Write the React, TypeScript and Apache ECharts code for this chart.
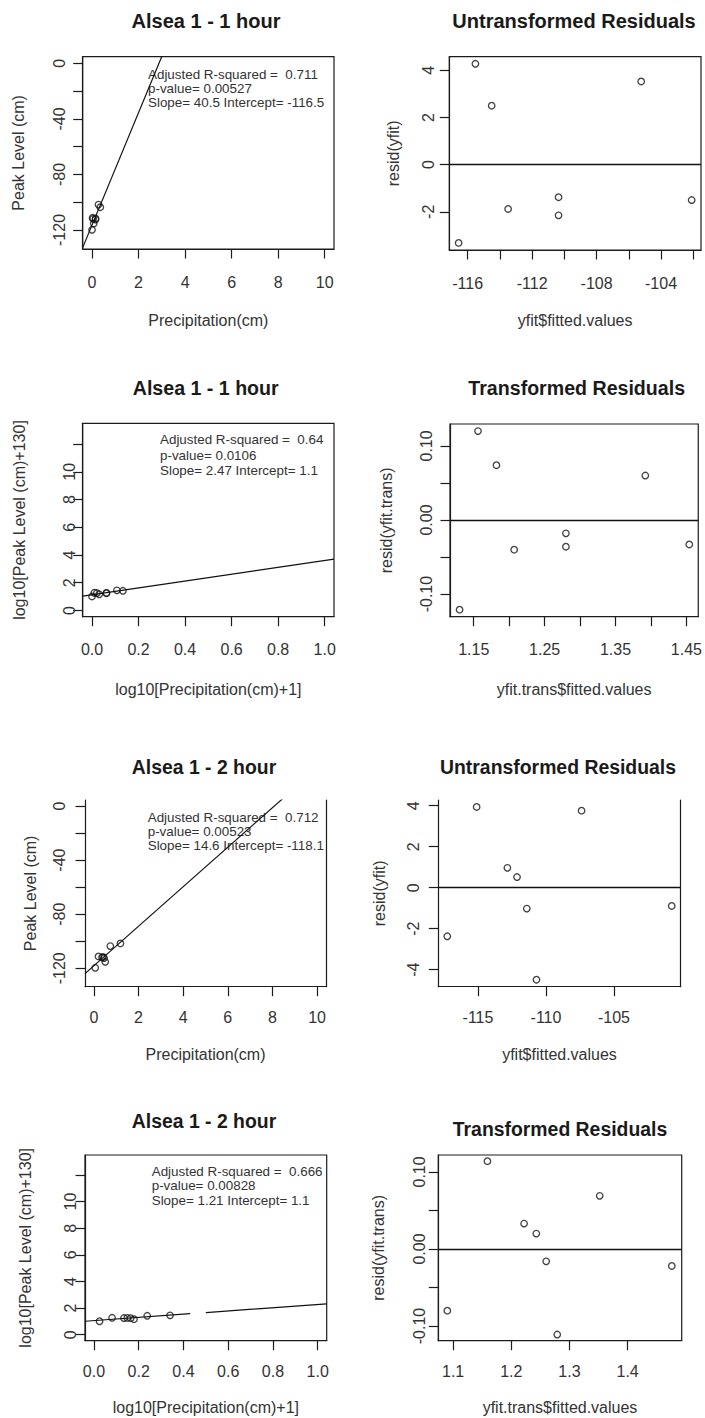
import React, { useEffect, useRef } from "react";
import * as echarts from "echarts";

// ---------------- DATA ----------------
// Alsea 1 - 1 hour (untransformed)
const precip1h = [0.0, 0.024, 0.049, 0.074, 0.152, 0.152, 0.278, 0.356];
const peak1h = [-119.9, -111.2, -112.0, -115.4, -111.7, -112.5, -101.7, -103.6];
const slope1h = 40.5;
const intercept1h = -116.5;
const fitted1h = [-116.56, -115.52, -114.51, -113.49, -110.36, -110.36, -105.23, -102.1];
const resid1h = [-3.32, 4.28, 2.5, -1.88, -1.38, -2.15, 3.53, -1.5];

// Alsea 1 - 1 hour (transformed)
const logPrecip1h = [0.0, 0.01, 0.021, 0.031, 0.062, 0.062, 0.107, 0.133];
const logPeak1h = [1.009, 1.276, 1.256, 1.167, 1.262, 1.243, 1.453, 1.421];
const slopeTrans1h = 2.47;
const interceptTrans1h = 1.13;
const fittedTrans1h = [1.13, 1.156, 1.182, 1.207, 1.28, 1.28, 1.392, 1.454];
const residTrans1h = [-0.121, 0.12, 0.074, -0.04, -0.018, -0.036, 0.06, -0.033];

// Alsea 1 - 2 hour (untransformed)
const precip2h = [0.058, 0.205, 0.36, 0.409, 0.458, 0.507, 0.734, 1.188];
const peak2h = [-119.6, -111.2, -111.9, -111.6, -112.4, -115.2, -103.6, -101.6];
const slope2h = 14.6;
const intercept2h = -118.1;
const fitted2h = [-117.26, -115.1, -112.84, -112.13, -111.41, -110.7, -107.38, -100.75];
const resid2h = [-2.37, 3.94, 0.97, 0.52, -1.02, -4.49, 3.76, -0.89];

// Alsea 1 - 2 hour (transformed)
const logPrecip2h = [0.025, 0.081, 0.134, 0.149, 0.164, 0.179, 0.238, 0.34];
const logPeak2h = [1.011, 1.273, 1.254, 1.263, 1.244, 1.169, 1.422, 1.454];
const slopeTrans2h = 1.21;
const interceptTrans2h = 1.06;
const fitLineGap2hTrans = [0.43, 0.5];
const fittedTrans2h = [1.09, 1.159, 1.222, 1.243, 1.26, 1.279, 1.352, 1.476];
const residTrans2h = [-0.08, 0.114, 0.033, 0.02, -0.016, -0.111, 0.069, -0.022];

// Tick values / labels
const precipTicks = [0, 2, 4, 6, 8, 10];
const peakTicks = [-120, -100, -80, -60, -40, -20, 0];
const peakLabels = [-120, -80, -40, 0];
const logPrecipTicks = [0, 0.2, 0.4, 0.6, 0.8, 1.0];
const logPeakTicks = [0, 2, 4, 6, 8, 10, 12];
const logPeakLabels = [0, 2, 4, 6, 8, 10];
const fitted1hTicks = [-116, -114, -112, -110, -108, -106, -104, -102];
const fitted1hLabels = [-116, -112, -108, -104];
const resid1hTicks = [-2, 0, 2, 4];
const fittedTrans1hTicks = [1.15, 1.2, 1.25, 1.3, 1.35, 1.4, 1.45];
const fittedTrans1hLabels = [1.15, 1.25, 1.35, 1.45];
const residTransTicks = [-0.1, -0.05, 0, 0.05, 0.1];
const residTransLabels = [-0.1, 0, 0.1];
const fitted2hTicks = [-115, -110, -105];
const resid2hTicks = [-4, -2, 0, 2, 4];
const fittedTrans2hTicks = [1.1, 1.2, 1.3, 1.4];

const titles = [
  "Alsea 1 - 1 hour",
  "Untransformed Residuals",
  "Alsea 1 - 1 hour",
  "Transformed Residuals",
  "Alsea 1 - 2 hour",
  "Untransformed Residuals",
  "Alsea 1 - 2 hour",
  "Transformed Residuals",
];

const annotations1h = ["Adjusted R-squared =  0.711", "p-value= 0.00527", "Slope= 40.5 Intercept= -116.5"];
const annotationsTrans1h = ["Adjusted R-squared =  0.64", "p-value= 0.0106", "Slope= 2.47 Intercept= 1.1"];
const annotations2h = ["Adjusted R-squared =  0.712", "p-value= 0.00523", "Slope= 14.6 Intercept= -118.1"];
const annotationsTrans2h = ["Adjusted R-squared =  0.666", "p-value= 0.00828", "Slope= 1.21 Intercept= 1.1"];

// ---------------- STYLE / LAYOUT ----------------
const FONT = "'Liberation Sans', Arial, Helvetica, sans-serif";
const AXIS_COLOR = "#1c1c1c";
const TEXT_COLOR = "#333333";
const TITLE_COLOR = "#1a1a1a";

const int = (v: number) => String(v);
const f1 = (v: number) => v.toFixed(1);
const f2 = (v: number) => v.toFixed(2);

type Panel = {
  grid: { left: number; top: number; width: number; height: number };
  noTop?: boolean;
  x: { min: number; max: number; ticks: number[]; labels: number[]; fmt: (v: number) => string; name: string; nameGap: number; margin: number };
  y: { min: number; max: number; ticks: number[]; labels: number[]; fmt: (v: number) => string; name: string; nameGap: number; margin: number };
  xs: number[];
  ys: number[];
  fit?: { slope: number; intercept: number; gap?: number[] };
  zeroLine?: boolean;
  title: { text: string; x: number; y: number; size: number };
  note?: { lines: string[]; x: number; y: number; lh: number };
};

const panels: Panel[] = [
  {
    grid: { left: 82.7, top: 56.7, width: 251.3, height: 192.3 },
    x: { min: -0.4, max: 10.4, ticks: precipTicks, labels: precipTicks, fmt: int, name: "Precipitation(cm)", nameGap: 63, margin: 25.5 },
    y: { min: -133.7, max: 4.8, ticks: peakTicks, labels: peakLabels, fmt: int, name: "Peak Level (cm)", nameGap: 56.5, margin: 15 },
    xs: precip1h, ys: peak1h,
    fit: { slope: slope1h, intercept: intercept1h },
    title: { text: titles[0], x: 206, y: 21, size: 20 },
    note: { lines: annotations1h, x: 148, y: 74, lh: 14.3 },
  },
  {
    grid: { left: 449.3, top: 56.7, width: 251.7, height: 193.3 },
    x: { min: -117.14, max: -101.52, ticks: fitted1hTicks, labels: fitted1hLabels, fmt: int, name: "yfit$fitted.values", nameGap: 62, margin: 25.5 },
    y: { min: -3.62, max: 4.58, ticks: resid1hTicks, labels: resid1hTicks, fmt: int, name: "resid(yfit)", nameGap: 48, margin: 13 },
    xs: fitted1h, ys: resid1h, zeroLine: true,
    title: { text: titles[1], x: 574, y: 21, size: 20 },
  },
  {
    grid: { left: 82.7, top: 423.3, width: 251.3, height: 193.4 },
    x: { min: -0.04, max: 1.04, ticks: logPrecipTicks, labels: logPrecipTicks, fmt: f1, name: "log10[Precipitation(cm)+1]", nameGap: 65, margin: 25 },
    y: { min: -0.45, max: 13.5, ticks: logPeakTicks, labels: logPeakLabels, fmt: int, name: "log10[Peak Level (cm)+130]", nameGap: 55, margin: 5 },
    xs: logPrecip1h, ys: logPeak1h,
    fit: { slope: slopeTrans1h, intercept: interceptTrans1h },
    title: { text: titles[2], x: 205.7, y: 388.3, size: 19.6 },
    note: { lines: annotationsTrans1h, x: 160, y: 440, lh: 15.2 },
  },
  {
    grid: { left: 450, top: 424, width: 251, height: 192.7 },
    x: { min: 1.1165, max: 1.4667, ticks: fittedTrans1hTicks, labels: fittedTrans1hLabels, fmt: f2, name: "yfit.trans$fitted.values", nameGap: 65, margin: 25 },
    y: { min: -0.1305, max: 0.1296, ticks: residTransTicks, labels: residTransLabels, fmt: f2, name: "resid(yfit.trans)", nameGap: 56, margin: 16 },
    xs: fittedTrans1h, ys: residTrans1h, zeroLine: true,
    title: { text: titles[3], x: 576.7, y: 388.3, size: 19.6 },
  },
  {
    grid: { left: 85, top: 800, width: 241, height: 186.7 },
    noTop: true,
    x: { min: -0.4, max: 10.4, ticks: precipTicks, labels: precipTicks, fmt: int, name: "Precipitation(cm)", nameGap: 60, margin: 23 },
    y: { min: -133.6, max: 4.4, ticks: peakTicks, labels: peakLabels, fmt: int, name: "Peak Level (cm)", nameGap: 47, margin: 18 },
    xs: precip2h, ys: peak2h,
    fit: { slope: slope2h, intercept: intercept2h },
    title: { text: titles[4], x: 204, y: 767, size: 19.4 },
    note: { lines: annotations2h, x: 147.7, y: 817.3, lh: 14.3 },
  },
  {
    grid: { left: 438.3, top: 800, width: 242.4, height: 186.7 },
    noTop: true,
    x: { min: -117.92, max: -100.09, ticks: fitted2hTicks, labels: fitted2hTicks, fmt: int, name: "yfit$fitted.values", nameGap: 60, margin: 23 },
    y: { min: -4.83, max: 4.28, ticks: resid2hTicks, labels: resid2hTicks, fmt: int, name: "resid(yfit)", nameGap: 51, margin: 17 },
    xs: fitted2h, ys: resid2h, zeroLine: true,
    title: { text: titles[5], x: 558, y: 767, size: 19.4 },
  },
  {
    grid: { left: 85, top: 1155, width: 241.7, height: 185.7 },
    x: { min: -0.04, max: 1.04, ticks: logPrecipTicks, labels: logPrecipTicks, fmt: f1, name: "log10[Precipitation(cm)+1]", nameGap: 59, margin: 22.5 },
    y: { min: -0.45, max: 13.5, ticks: logPeakTicks, labels: logPeakLabels, fmt: int, name: "log10[Peak Level (cm)+130]", nameGap: 52, margin: 6.5 },
    xs: logPrecip2h, ys: logPeak2h,
    fit: { slope: slopeTrans2h, intercept: interceptTrans2h, gap: fitLineGap2hTrans },
    title: { text: titles[6], x: 204, y: 1121, size: 19.4 },
    note: { lines: annotationsTrans2h, x: 151.7, y: 1171, lh: 14.5 },
  },
  {
    grid: { left: 438.3, top: 1155, width: 243.4, height: 185.7 },
    x: { min: 1.0745, max: 1.493, ticks: fittedTrans2hTicks, labels: fittedTrans2hTicks, fmt: f1, name: "yfit.trans$fitted.values", nameGap: 59, margin: 22.5 },
    y: { min: -0.119, max: 0.122, ticks: residTransTicks, labels: residTransLabels, fmt: f2, name: "resid(yfit.trans)", nameGap: 52, margin: 10.5 },
    xs: fittedTrans2h, ys: residTrans2h, zeroLine: true,
    title: { text: titles[7], x: 560, y: 1129, size: 19.4 },
  },
];

function makeAxis(gridIndex: number, position: string, a: Panel["x"], vertical: boolean) {
  return {
    type: "value",
    gridIndex,
    position,
    min: a.min,
    max: a.max,
    name: a.name,
    nameLocation: "middle",
    nameGap: a.nameGap,
    nameRotate: vertical ? 90 : 0,
    nameTextStyle: { fontFamily: FONT, fontSize: 16, color: TEXT_COLOR },
    axisLine: { show: true, onZero: false, lineStyle: { color: AXIS_COLOR, width: 1.2 } },
    axisTick: { show: true, inside: false, length: 9.5, customValues: a.ticks, lineStyle: { color: AXIS_COLOR, width: 1.2 } },
    axisLabel: {
      show: true,
      customValues: a.labels,
      margin: a.margin,
      rotate: vertical ? 90 : 0,
      formatter: (v: number) => a.fmt(v),
      fontFamily: FONT,
      fontSize: 16,
      color: TEXT_COLOR,
    },
    splitLine: { show: false },
  };
}

function buildOption() {
  const grid: any[] = [];
  const xAxis: any[] = [];
  const yAxis: any[] = [];
  const series: any[] = [];
  const graphic: any[] = [];

  panels.forEach((p, i) => {
    grid.push({
      ...p.grid,
      containLabel: false,
      show: !p.noTop,
      borderColor: AXIS_COLOR,
      borderWidth: 1.2,
      backgroundColor: "transparent",
    });
    xAxis.push(makeAxis(i, "bottom", p.x, false));
    yAxis.push(makeAxis(i, "left", p.y, true));

    series.push({
      type: "scatter",
      xAxisIndex: i,
      yAxisIndex: i,
      silent: true,
      symbol: "circle",
      symbolSize: 6.5,
      itemStyle: { color: "rgba(255,255,255,0)", borderColor: "#111", borderWidth: 1.3 },
      data: p.xs.map((x, k) => [x, p.ys[k]]),
      z: 3,
      markLine: p.zeroLine
        ? {
            silent: true,
            symbol: ["none", "none"],
            label: { show: false },
            lineStyle: { color: "#111", width: 1.3, type: "solid" },
            data: [{ yAxis: 0 }],
          }
        : undefined,
    });

    if (p.fit) {
      const { slope, intercept, gap } = p.fit;
      const f = (x: number) => intercept + slope * x;
      const data: any[] = [[p.x.min, f(p.x.min)]];
      if (gap) {
        data.push([gap[0], f(gap[0])]);
        data.push([(gap[0] + gap[1]) / 2, "-"]);
        data.push([gap[1], f(gap[1])]);
      }
      data.push([p.x.max, f(p.x.max)]);
      series.push({
        type: "line",
        xAxisIndex: i,
        yAxisIndex: i,
        silent: true,
        symbol: "none",
        showSymbol: false,
        clip: true,
        connectNulls: false,
        lineStyle: { color: "#111", width: 1.2 },
        data,
        z: 2,
      });
    }

    graphic.push({
      type: "text",
      x: p.title.x,
      y: p.title.y,
      silent: true,
      style: {
        text: p.title.text,
        fill: TITLE_COLOR,
        fontFamily: FONT,
        fontSize: p.title.size,
        fontWeight: "bold",
        align: "center",
        textAlign: "center",
        verticalAlign: "middle",
        textVerticalAlign: "middle",
      },
    });

    if (p.note) {
      graphic.push({
        type: "text",
        x: p.note.x,
        y: p.note.y - p.note.lh / 2,
        silent: true,
        style: {
          text: p.note.lines.join("\n"),
          fill: TEXT_COLOR,
          fontFamily: FONT,
          fontSize: 13.4,
          lineHeight: p.note.lh,
          align: "left",
          textAlign: "left",
          verticalAlign: "top",
          textVerticalAlign: "top",
        },
      });
    }
  });

  // Right border for panels drawn without a full box (top edge absent)
  panels.forEach((p, i) => {
    if (!p.noTop) return;
    yAxis.push({
      type: "value",
      gridIndex: i,
      position: "right",
      min: p.y.min,
      max: p.y.max,
      axisLine: { show: true, onZero: false, lineStyle: { color: AXIS_COLOR, width: 1.2 } },
      axisTick: { show: false },
      axisLabel: { show: false },
      splitLine: { show: false },
    });
  });

  return {
    animation: false,
    backgroundColor: "#ffffff",
    textStyle: { fontFamily: FONT },
    grid,
    xAxis,
    yAxis,
    series,
    graphic,
  };
}

export default function App() {
  const ref = useRef<HTMLDivElement>(null);
  useEffect(() => {
    if (!ref.current) return;
    const chart = echarts.init(ref.current, undefined, { renderer: "svg" });
    chart.setOption(buildOption() as any);
    return () => {
      chart.dispose();
    };
  }, []);
  return (
    <div
      ref={ref}
      style={{ position: "absolute", left: 0, top: 0, width: 705, height: 1418, background: "#fff" }}
    />
  );
}
